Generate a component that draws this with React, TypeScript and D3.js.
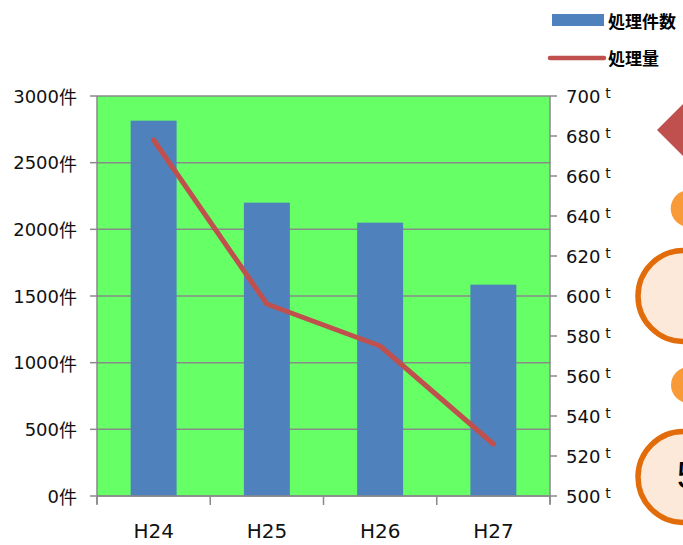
import React from "react";
import * as d3 from "d3";

const categories = ["H24", "H25", "H26", "H27"];
const countValues = [2815, 2200, 2050, 1585];
const amountValues = [678, 596, 575, 526];
const leftTicks = [0, 500, 1000, 1500, 2000, 2500, 3000];
const rightTicks = [500, 520, 540, 560, 580, 600, 620, 640, 660, 680, 700];
const legendLabels = ["処理件数", "処理量"];

const W = 683;
const H = 545;
const plot = { left: 97, right: 550, top: 96, bottom: 496 };

export default function App() {
  const x = d3.scaleBand<string>().domain(categories).range([plot.left, plot.right]).padding(0);
  const yL = d3.scaleLinear().domain([0, 3000]).range([plot.bottom, plot.top]);
  const yR = d3.scaleLinear().domain([500, 700]).range([plot.bottom, plot.top]);
  const barW = x.bandwidth() * 0.406;
  const line = d3
    .line<number>()
    .x((_, i) => (x(categories[i]) as number) + x.bandwidth() / 2)
    .y((d) => yR(d));
  const grid = "#8a8a8a";
  const font = "'DejaVu Sans', Verdana, sans-serif";
  const boundaries = [...categories.map((c) => x(c) as number), plot.right];

  return (
    <svg
      width={W}
      height={H}
      style={{ position: "absolute", left: 0, top: 0, display: "block", background: "#fff" }}
    >
      <rect
        x={plot.left}
        y={plot.top}
        width={plot.right - plot.left}
        height={plot.bottom - plot.top}
        fill="#66FF66"
      />
      {leftTicks.map((t) => (
        <line key={"g" + t} x1={plot.left} x2={plot.right} y1={yL(t)} y2={yL(t)} stroke={grid} strokeWidth={1.5} />
      ))}
      {categories.map((c, i) => (
        <rect
          key={c}
          x={(x(c) as number) + x.bandwidth() / 2 - barW / 2}
          y={yL(countValues[i])}
          width={barW}
          height={yL(0) - yL(countValues[i])}
          fill="#4F81BD"
        />
      ))}
      <path d={line(amountValues) as string} fill="none" stroke="#C0504D" strokeWidth={5} strokeLinejoin="round" strokeLinecap="round" />
      <line x1={plot.left} x2={plot.left} y1={plot.top} y2={plot.bottom + 8} stroke={grid} strokeWidth={1.5} />
      <line x1={plot.right} x2={plot.right} y1={plot.top} y2={plot.bottom + 8} stroke={grid} strokeWidth={1.5} />
      <line x1={plot.left} x2={plot.right} y1={plot.bottom} y2={plot.bottom} stroke={grid} strokeWidth={1.5} />
      {leftTicks.map((t) => (
        <g key={"l" + t}>
          <line x1={plot.left - 7} x2={plot.left} y1={yL(t)} y2={yL(t)} stroke={grid} strokeWidth={1.5} />
          <text
            x={77}
            y={yL(t)}
            textAnchor="end"
            dominantBaseline="central"
            fontFamily={font}
            fontSize={18}
            fill="#111"
          >
            {t}
            <tspan fontFamily="'Noto Sans CJK JP', sans-serif">件</tspan>
          </text>
        </g>
      ))}
      {rightTicks.map((t) => (
        <g key={"r" + t}>
          <line x1={plot.right} x2={plot.right + 7} y1={yR(t)} y2={yR(t)} stroke={grid} strokeWidth={1.5} />
          <text x={566} y={yR(t)} dominantBaseline="central" fontFamily={font} fontSize={18} fill="#111">
            {t}
            <tspan dx={5} dy={-3} fontSize={14}>
              t
            </tspan>
          </text>
        </g>
      ))}
      {boundaries.map((b, i) => (
        <line key={"b" + i} x1={b} x2={b} y1={plot.bottom} y2={plot.bottom + 9} stroke={grid} strokeWidth={1.5} />
      ))}
      {categories.map((c) => (
        <text
          key={"c" + c}
          x={(x(c) as number) + x.bandwidth() / 2}
          y={531}
          textAnchor="middle"
          dominantBaseline="central"
          fontFamily={font}
          fontSize={20}
          fill="#111"
        >
          {c}
        </text>
      ))}
      <rect x={552} y={14} width={52} height={12} fill="#4F81BD" />
      <text x={608} y={20} dominantBaseline="central" fontFamily="'Noto Sans CJK JP', sans-serif" fontWeight="bold" fontSize={17} fill="#000">
        {legendLabels[0]}
      </text>
      <line x1={550} x2={604} y1={58} y2={58} stroke="#C0504D" strokeWidth={4.5} strokeLinecap="round" />
      <text x={608} y={57} dominantBaseline="central" fontFamily="'Noto Sans CJK JP', sans-serif" fontWeight="bold" fontSize={17} fill="#000">
        {legendLabels[1]}
      </text>
      <path d="M657,130 L683,104 L709,130 L683,156 Z" fill="#C0504D" />
      <circle cx={689} cy={208.5} r={18.3} fill="#F99A38" />
      <circle cx={683.5} cy={296} r={45.5} fill="#FDE9D9" stroke="#E36C0A" strokeWidth={5.5} />
      <circle cx={689} cy={385} r={18} fill="#F99A38" />
      <circle cx={683.5} cy={477} r={45.5} fill="#FDE9D9" stroke="#E36C0A" strokeWidth={5.5} />
      <text x={677} y={475} dominantBaseline="central" fontFamily="'Liberation Sans', Arial, sans-serif" fontSize={36} fill="#000">
        5
      </text>
    </svg>
  );
}
